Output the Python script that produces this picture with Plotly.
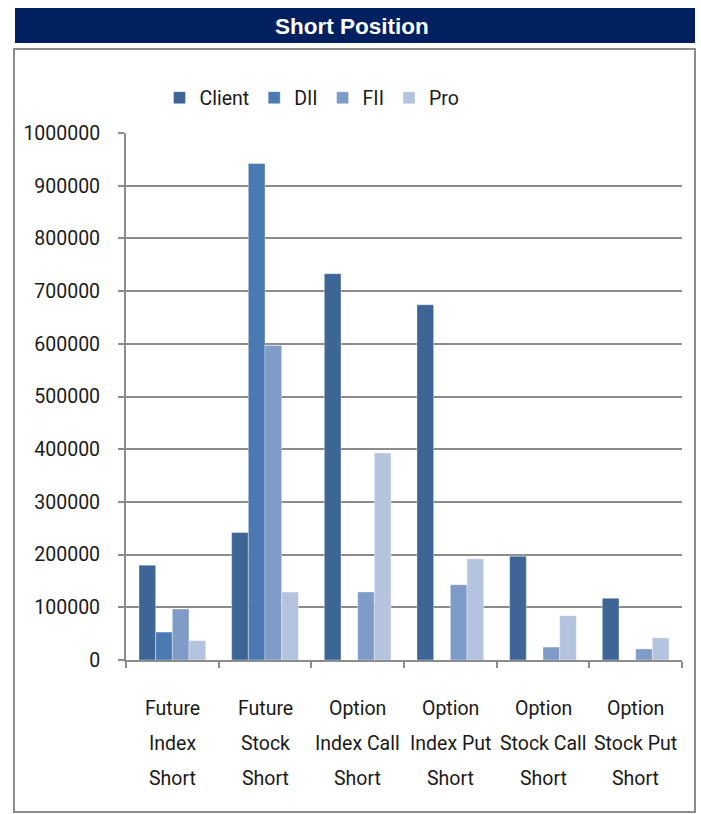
import plotly.graph_objects as go

categories = ["Future Index Short", "Future Stock Short", "Option Index Call Short",
              "Option Index Put Short", "Option Stock Call Short", "Option Stock Put Short"]
label_lines = [["Future", "Index", "Short"],
               ["Future", "Stock", "Short"],
               ["Option", "Index Call", "Short"],
               ["Option", "Index Put", "Short"],
               ["Option", "Stock Call", "Short"],
               ["Option", "Stock Put", "Short"]]

series_names = ["Client", "DII", "FII", "Pro"]
client = [180000, 242000, 733000, 674000, 197000, 117000]
dii = [53000, 942000, 0, 0, 0, 0]
fii = [97000, 597000, 129000, 143000, 24500, 21000]
pro = [37000, 129000, 393000, 192000, 84000, 42000]
series_values = [client, dii, fii, pro]
colors = ["#3D6595", "#4A7AB1", "#7F9CC9", "#B4C3DE"]

y_ticks = [0, 100000, 200000, 300000, 400000, 500000, 600000, 700000, 800000, 900000, 1000000]

FONT = "Roboto, sans-serif"
FS = 19.5
TXT = "#1a1a1a"

fig = go.Figure()
for name, vals, col in zip(series_names, series_values, colors):
    fig.add_trace(go.Bar(x=categories, y=vals, name=name,
                         marker=dict(color=col, line=dict(color="rgba(255,255,255,0.45)", width=0.8))))

W, H = 701, 814
L, R, T, B = 126, 19, 133, 154
pw, ph = W - L - R, H - T - B

def px_x(x):
    return (x - L) / pw

def px_y(y):
    return (H - B - y) / ph

fig.update_layout(
    width=W, height=H,
    margin=dict(l=L, r=R, t=T, b=B, pad=0, autoexpand=False),
    paper_bgcolor="white", plot_bgcolor="white",
    barmode="group", bargap=0.28, bargroupgap=0,
    font=dict(family=FONT, size=FS, color=TXT),
    legend=dict(orientation="h", x=px_x(312), xanchor="center", y=px_y(98), yanchor="middle",
                font=dict(family=FONT, size=FS, color=TXT), itemwidth=30,
                bgcolor="rgba(0,0,0,0)", traceorder="normal"),
    showlegend=True,
)

fig.update_yaxes(range=[0, 1000000], tickvals=y_ticks, ticktext=[str(v) for v in y_ticks],
                 showgrid=True, gridcolor="#8c8c8c", gridwidth=2,
                 showline=True, linecolor="#8c8c8c", linewidth=2,
                 ticks="outside", ticklen=6, tickcolor="#8c8c8c", tickwidth=2,
                 ticklabelstandoff=14, zeroline=False, automargin=False,
                 tickfont=dict(family=FONT, size=FS, color=TXT))
fig.update_xaxes(showticklabels=False, showline=True, linecolor="#8c8c8c", linewidth=2,
                 ticks="outside", tickson="boundaries", ticklen=6, tickcolor="#8c8c8c", tickwidth=2,
                 showgrid=False, automargin=False)

# category labels, three lines each
line_y = [708, 743, 778]
for cat, lines in zip(categories, label_lines):
    for ln, yy in zip(lines, line_y):
        fig.add_annotation(x=cat, xref="x", y=px_y(yy), yref="paper", text=ln, showarrow=False,
                           xanchor="center", yanchor="middle",
                           font=dict(family=FONT, size=FS, color=TXT))

# outer chart frame
fig.add_shape(type="rect", xref="paper", yref="paper",
              x0=px_x(14), x1=px_x(695), y0=px_y(812), y1=px_y(49),
              line=dict(color="#8c8c8c", width=2), fillcolor="rgba(0,0,0,0)", layer="below")

# title banner
fig.add_shape(type="rect", xref="paper", yref="paper",
              x0=px_x(15), x1=px_x(695), y0=px_y(43), y1=px_y(8),
              line=dict(width=0), fillcolor="#002060", layer="above")
fig.add_annotation(x=px_x(352), xref="paper", y=px_y(27), yref="paper", text="<b>Short Position</b>",
                   showarrow=False, xanchor="center", yanchor="middle",
                   font=dict(family="Liberation Sans, Arial, sans-serif", size=22.5, color="white"))

fig.write_html("out.html")
